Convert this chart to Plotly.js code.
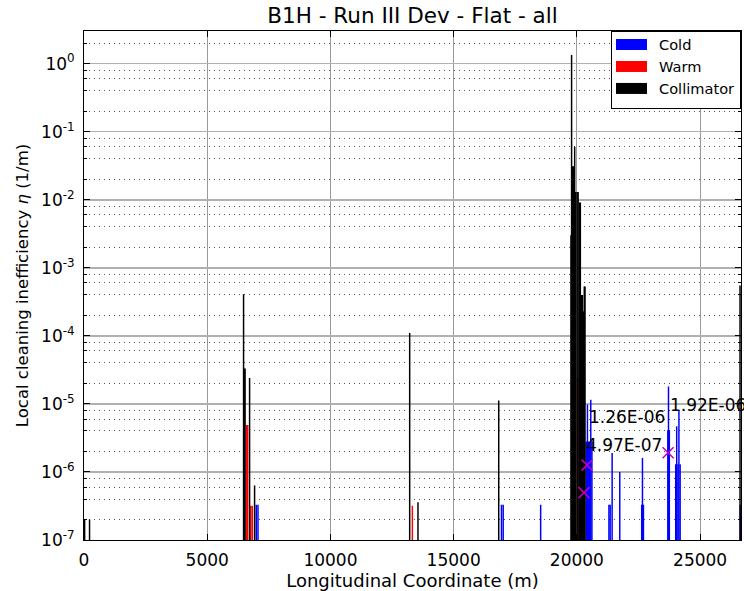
<!DOCTYPE html>
<html>
<head>
<meta charset="utf-8">
<script src="https://cdn.plot.ly/plotly-3.0.1.min.js"></script>
<style>html,body{margin:0;padding:0;background:#fff;}</style>
</head>
<body>
<div id="chart" style="width:744px;height:591px;"></div>
<script>
// ---- data ----
const coldS = [6990, 7060, 16940, 17010, 18530, 20380, 20428, 20470, 20520, 20563, 20610, 21300, 21350, 21430, 21740, 22630, 22661, 22700, 23690, 23717, 23750, 24010, 24050, 24100, 24140, 24190, 26630];
const coldV = [3.3e-7, 3.3e-7, 3.3e-7, 3.3e-7, 3.3e-7, 2.8e-6, 9.8e-6, 2.8e-6, 2.8e-6, 1.15e-5, 2.8e-6, 3.3e-7, 3.3e-7, 1.9e-6, 1.0e-6, 3.3e-7, 1.6e-6, 3.3e-7, 4.1e-6, 1.8e-5, 4.1e-6, 1.3e-6, 4.7e-6, 1.3e-6, 7.9e-6, 1.3e-6, 3.3e-7];

const warmS = [6600, 6640, 6770, 6830, 13324, 19900, 20030];
const warmV = [4.9e-6, 4.9e-6, 3.2e-7, 3.2e-7, 3.2e-7, 3.2e-4, 2.4e-5];

const collS = [25, 225, 6475, 6500, 6536, 6719, 6922, 13215, 13552, 16828, 19760, 19785, 19830, 19870, 19910, 19950, 20010, 20050, 20100, 20140, 20180, 20225, 20260, 20300, 20330, 26620];
const collV = [2.0e-7, 2.0e-7, 4.1e-4, 3.3e-5, 3.3e-5, 2.4e-5, 6.3e-7, 1.1e-4, 3.6e-7, 1.12e-5, 3.0e-3, 1.34, 3.1e-2, 3.1e-2, 6.0e-2, 1.3e-2, 1.3e-2, 1.3e-2, 9.1e-3, 9.1e-3, 4.0e-4, 4.0e-4, 2.3e-4, 5.3e-4, 5.3e-4, 5.5e-4];

const markS = [20291, 20412, 23701];
const markV = [4.97e-7, 1.26e-6, 1.92e-6];
const markLabels = ["4.97E-07", "1.26E-06", "1.92E-06"];

const xTickVals = [0, 5000, 10000, 15000, 20000, 25000];
const xTickText = ["0", "5000", "10000", "15000", "20000", "25000"];
const yTickVals = [1e-7, 1e-6, 1e-5, 1e-4, 1e-3, 1e-2, 1e-1, 1e0];
const yTickText = ["10<sup>-7</sup>", "10<sup>-6</sup>", "10<sup>-5</sup>", "10<sup>-4</sup>", "10<sup>-3</sup>", "10<sup>-2</sup>", "10<sup>-1</sup>", "10<sup>0</sup>"];
const minorMult = [2, 4, 6, 8];

// minor gridline values (2,4,6,8 x each decade)
const yMinorVals = [];
for (let e = -7; e <= 0; e++) {
  minorMult.forEach(m => yMinorVals.push(m * Math.pow(10, e)));
}

const BARW = 60;
const traces = [
  {type: 'bar', name: 'Cold', x: coldS, y: coldV, width: BARW,
   marker: {color: '#0000ff', line: {width: 0}}},
  {type: 'bar', name: 'Warm', x: warmS, y: warmV, width: BARW,
   marker: {color: '#ff0000', line: {width: 0}}},
  {type: 'bar', name: 'Collimator', x: collS, y: collV, width: BARW,
   marker: {color: '#000000', line: {width: 0}}},
  {type: 'scatter', mode: 'markers', x: markS, y: markV, showlegend: false,
   marker: {symbol: 'x-thin', size: 11, color: '#bf00bf', line: {color: '#bf00bf', width: 1.5}}}
];

const annotations = markS.map((s, i) => ({
  x: s, y: Math.log10(markV[i]), xref: 'x', yref: 'y',
  text: markLabels[i], showarrow: false, xanchor: 'left', yanchor: 'middle',
  yshift: 48, font: {size: 17, color: '#000'}
}));

const layout = {
  width: 744, height: 591,
  margin: {l: 84, r: 3, t: 31, b: 51},
  paper_bgcolor: '#ffffff', plot_bgcolor: '#ffffff',
  font: {family: 'DejaVu Sans', size: 17, color: '#000'},
  title: {text: 'B1H - Run III Dev - Flat - all', font: {size: 21.5, color: '#000'},
          x: 0.5, xref: 'paper', xanchor: 'center', y: 1 - 15 / 591, yref: 'container', yanchor: 'middle'},
  barmode: 'overlay',
  showlegend: true,
  legend: {x: 1, xanchor: 'right', y: 1, yanchor: 'top', bgcolor: '#ffffff',
           bordercolor: '#000', borderwidth: 1, font: {size: 14.6}, traceorder: 'normal',
           itemwidth: 37},
  annotations: annotations,
  xaxis: {
    range: [0, 26659], tickmode: 'array', tickvals: xTickVals, ticktext: xTickText,
    ticks: 'inside', ticklen: 6, tickcolor: '#000', tickwidth: 1,
    showline: true, linecolor: '#000', linewidth: 1, mirror: 'allticks',
    showgrid: true, gridcolor: '#9a9a9a', gridwidth: 1, zeroline: false,
    tickfont: {size: 17}, ticklabelstandoff: 5,
    title: {text: 'Longitudinal Coordinate (m)', font: {size: 18}, standoff: 6}
  },
  yaxis: {
    type: 'log', range: [-7, 0.48], tickmode: 'array', tickvals: yTickVals, ticktext: yTickText,
    ticks: 'inside', ticklen: 6, tickcolor: '#000', tickwidth: 1,
    showline: true, linecolor: '#000', linewidth: 1, mirror: 'allticks',
    showgrid: true, gridcolor: '#b0b0b0', gridwidth: 1.5, zeroline: false,
    tickfont: {size: 17}, ticklabelstandoff: 5,
    minor: {tickmode: 'array', tickvals: yMinorVals, ticks: 'inside', ticklen: 3, tickcolor: '#000',
            showgrid: true, gridcolor: '#555555', gridwidth: 1, griddash: '1px,4px'},
    title: {text: 'Local cleaning inefficiency <i>η</i> (1/m)', font: {size: 16.5}, standoff: 8}
  }
};

Plotly.newPlot('chart', traces, layout, {staticPlot: true}).then(gd => {
  gd.querySelectorAll('.legend .legendpoints path').forEach(p => {
    p.setAttribute('d', 'M11.5,5.5H-19.5V-5.5H11.5Z');
  });
  gd.querySelectorAll('.legend .traces').forEach(t => {
    const tr = t.getAttribute('transform') || '';
    const m = tr.match(/translate\(\s*([-\d.]+)[ ,]+([-\d.]+)\s*\)/);
    if (m) t.setAttribute('transform', 'translate(' + m[1] + ',' + (parseFloat(m[2]) - 3.5) + ')');
  });
});
</script>
</body>
</html>
